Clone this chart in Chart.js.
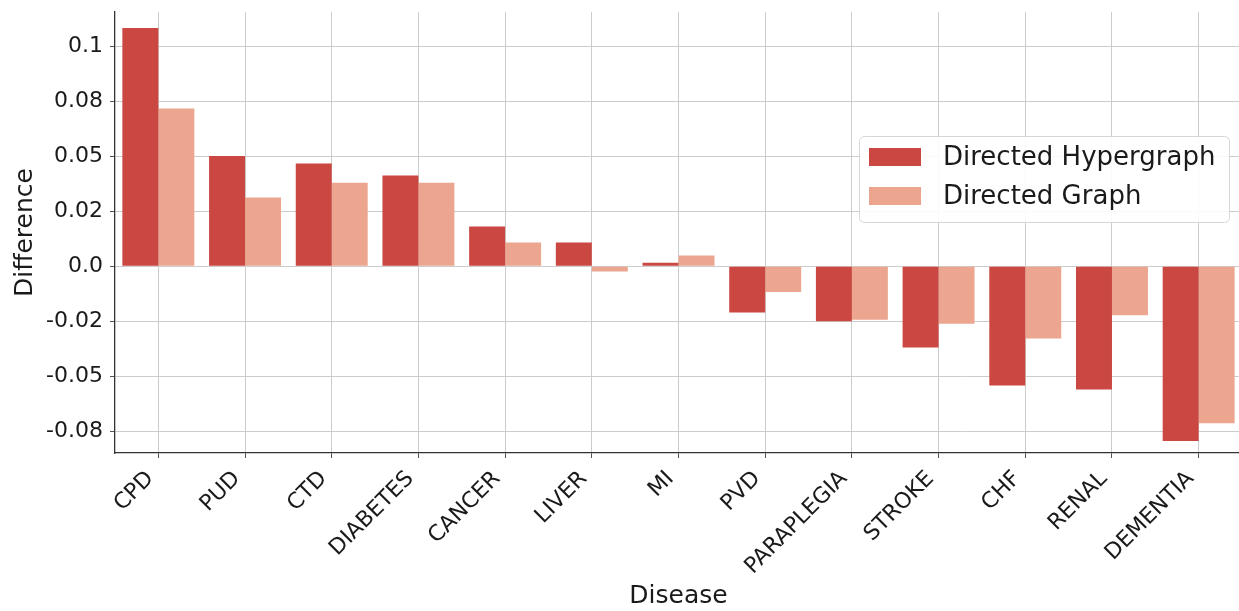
<!DOCTYPE html>
<html>
<head>
<meta charset="utf-8">
<script src="https://cdn.jsdelivr.net/npm/chart.js@4.4.1/dist/chart.umd.min.js"></script>
<style>
  html, body { margin: 0; padding: 0; background: #ffffff; overflow: hidden; }
  #wrap { width: 1239px; height: 611px; overflow: hidden; }
  #c { display: block; }
</style>
</head>
<body>
<div id="wrap"><canvas id="c" width="1242" height="611"></canvas></div>
<script>
const categories = ['CPD','PUD','CTD','DIABETES','CANCER','LIVER','MI','PVD','PARAPLEGIA','STROKE','CHF','RENAL','DEMENTIA'];
const hypergraphValues = [0.1082, 0.0501, 0.0467, 0.0412, 0.0180, 0.0108, 0.0015, -0.0210, -0.0250, -0.0370, -0.0542, -0.0560, -0.0794];
const graphValues = [0.0717, 0.0312, 0.0379, 0.0379, 0.0108, -0.0024, 0.0049, -0.0117, -0.0243, -0.0262, -0.0329, -0.0223, -0.0714];
const seriesNames = ['Directed Hypergraph', 'Directed Graph'];
const yTickValues = [-0.075, -0.05, -0.025, 0, 0.025, 0.05, 0.075, 0.1];
const yTickLabels = ['-0.08', '-0.05', '-0.02', '0.0', '0.02', '0.05', '0.08', '0.1'];
const yMin = -0.0849;
const yMax = 0.1155;

const FONT = 'DejaVu Sans';
const colHyper = '#cb4741';
const colGraph = '#eca690';

const legendInside = {
  id: 'legendInside',
  afterDatasetsDraw(chart) {
    const ctx = chart.ctx;
    const ca = chart.chartArea;
    const bx = ca.right - 383, by = ca.top + 124, bw = 370, bh = 86;
    ctx.save();
    ctx.beginPath();
    ctx.roundRect(bx + 0.5, by + 0.5, bw, bh, 5);
    ctx.fillStyle = 'rgba(255,255,255,0.9)';
    ctx.fill();
    ctx.strokeStyle = '#d6d6d6';
    ctx.lineWidth = 1;
    ctx.stroke();
    ctx.font = '26px "' + FONT + '"';
    ctx.textBaseline = 'middle';
    ctx.textAlign = 'left';
    chart.data.datasets.forEach((ds, i) => {
      const cy = by + 21 + i * 39;
      ctx.fillStyle = ds.backgroundColor;
      ctx.fillRect(bx + 10, cy - 9, 52, 18);
      ctx.fillStyle = '#1a1a1a';
      ctx.fillText(ds.label, bx + 84, cy + 1);
    });
    ctx.restore();
  }
};

new Chart(document.getElementById('c'), {
  type: 'bar',
  data: {
    labels: categories,
    datasets: [
      { label: seriesNames[0], data: hypergraphValues, backgroundColor: colHyper, borderWidth: 0 },
      { label: seriesNames[1], data: graphValues, backgroundColor: colGraph, borderWidth: 0 }
    ]
  },
  options: {
    responsive: false,
    animation: false,
    devicePixelRatio: 1,
    layout: { padding: { left: 0, top: 12, right: 0, bottom: 0 } },
    datasets: { bar: { categoryPercentage: 0.83, barPercentage: 1.0 } },
    plugins: { legend: { display: false }, tooltip: { enabled: false } },
    scales: {
      x: {
        offset: true,
        grid: { offset: false, color: '#cccccc', lineWidth: 1, tickLength: 5, tickColor: '#555555' },
        border: { display: true, color: '#333333', width: 1.3 },
        ticks: {
          color: '#1a1a1a', font: { family: FONT, size: 22 },
          maxRotation: 45, minRotation: 45, padding: 8, labelOffset: -8, autoSkip: false
        },
        title: { display: true, text: 'Disease', color: '#1a1a1a', font: { family: FONT, size: 25 }, padding: { top: 0, bottom: 0 } },
        afterFit(scale) { scale.height = 158; scale.paddingLeft = 0; scale.paddingRight = 0; }
      },
      y: {
        min: yMin, max: yMax,
        afterBuildTicks(scale) { scale.ticks = yTickValues.map(v => ({ value: v })); },
        grid: { color: '#cccccc', lineWidth: 1, tickLength: 5, tickColor: '#555555' },
        border: { display: true, color: '#333333', width: 1.3 },
        ticks: {
          color: '#1a1a1a', font: { family: FONT, size: 22 }, padding: 7,
          callback: (v) => { const i = yTickValues.findIndex(t => Math.abs(t - v) < 1e-9); return i >= 0 ? yTickLabels[i] : ''; }
        },
        title: { display: true, text: 'Difference', color: '#1a1a1a', font: { family: FONT, size: 25 }, padding: { top: 10, bottom: 0 } },
        afterFit(scale) { scale.width = 115; scale.paddingTop = 0; scale.paddingBottom = 0; }
      }
    }
  },
  plugins: [legendInside]
});
</script>
</body>
</html>
